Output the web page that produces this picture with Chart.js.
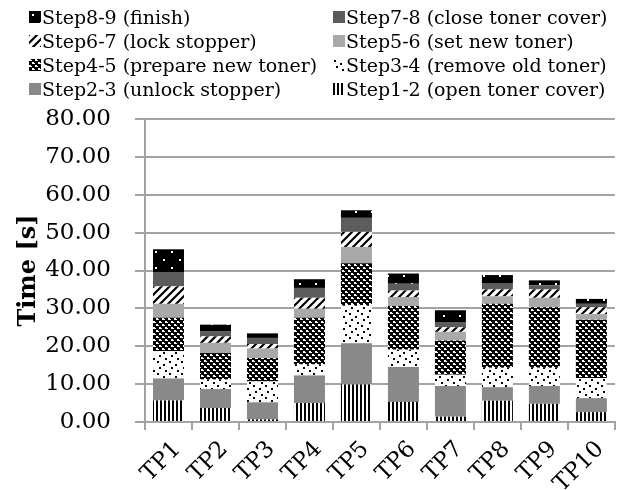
<!DOCTYPE html>
<html>
<head>
<meta charset="utf-8">
<script src="https://cdn.jsdelivr.net/npm/chart.js@4.4.1/dist/chart.umd.min.js"></script>
<style>
  body { margin: 0; background: #fff; }
  #wrap { position: relative; width: 617px; height: 490px; }
  #legend {
    position: absolute; left: 29px; top: 5px;
    display: grid; grid-template-columns: 304px 300px; row-gap: 0px;
    font-family: 'DejaVu Serif', serif; font-size: 19px; color: #000;
  }
  .item { display: flex; align-items: center; height: 24px; white-space: nowrap; }
  .item canvas { margin-right: 1px; }
</style>
</head>
<body>
<div id="wrap">
  <canvas id="chart" width="617" height="490"></canvas>
  <div id="legend"></div>
</div>
<script>
const categories = ['TP1', 'TP2', 'TP3', 'TP4', 'TP5', 'TP6', 'TP7', 'TP8', 'TP9', 'TP10'];
const stepNames = [
  'Step1-2 (open toner cover)',
  'Step2-3 (unlock stopper)',
  'Step3-4 (remove old toner)',
  'Step4-5 (prepare new toner)',
  'Step5-6 (set new toner)',
  'Step6-7 (lock stopper)',
  'Step7-8 (close toner cover)',
  'Step8-9 (finish)'
];
const step12 = [5.7, 3.7, 0.7, 5.0, 9.9, 5.3, 1.4, 5.6, 4.8, 2.6];
const step23 = [5.8, 5.0, 4.5, 7.3, 10.9, 9.2, 8.1, 3.6, 4.7, 3.7];
const step34 = [7.2, 2.5, 5.5, 2.9, 10.0, 4.6, 3.0, 5.1, 4.8, 5.3];
const step45 = [8.8, 7.0, 6.2, 12.3, 11.1, 11.5, 9.0, 16.9, 16.0, 15.4];
const step56 = [3.7, 2.7, 2.5, 2.4, 4.3, 2.4, 2.3, 2.0, 2.5, 1.5];
const step67 = [4.6, 1.7, 1.2, 2.9, 4.0, 1.7, 1.2, 1.8, 2.2, 1.8];
const step78 = [3.8, 1.4, 1.6, 2.6, 3.7, 1.8, 1.4, 1.7, 1.1, 0.9];
const step89 = [6.0, 1.7, 1.2, 2.3, 2.0, 2.7, 3.1, 2.1, 1.3, 1.3];
const yTicks = [0, 10, 20, 30, 40, 50, 60, 70, 80];

// build small tile canvases for the hatch fills
function tile(w, h, draw) {
  const c = document.createElement('canvas');
  c.width = w; c.height = h;
  draw(c.getContext('2d'), w, h);
  return c;
}
const tiles = [
  // vertical stripes
  tile(4, 4, (g) => { g.fillStyle = '#fff'; g.fillRect(0, 0, 4, 4); g.fillStyle = '#000'; g.fillRect(0, 0, 2, 4); }),
  // solid mid gray
  tile(4, 4, (g) => { g.fillStyle = '#898989'; g.fillRect(0, 0, 4, 4); }),
  // sparse dots
  tile(12, 12, (g) => {
    g.fillStyle = '#fff'; g.fillRect(0, 0, 12, 12); g.fillStyle = '#000';
    g.fillRect(1, 1, 2, 2); g.fillRect(7, 4, 2, 2); g.fillRect(3, 7, 2, 2); g.fillRect(9, 10, 2, 2);
  }),
  // dense cross hatch
  tile(6, 6, (g) => {
    g.fillStyle = '#000'; g.fillRect(0, 0, 6, 6); g.fillStyle = '#fff';
    g.fillRect(0, 0, 2, 2); g.fillRect(3, 3, 2, 2); g.fillRect(2, 1, 1, 1); g.fillRect(5, 4, 1, 1);
  }),
  // light gray
  tile(4, 4, (g) => { g.fillStyle = '#a9a9a9'; g.fillRect(0, 0, 4, 4); }),
  // diagonal hatch
  tile(8, 8, (g) => {
    g.fillStyle = '#fff'; g.fillRect(0, 0, 8, 8);
    g.strokeStyle = '#000'; g.lineWidth = 2.2;
    g.beginPath();
    g.moveTo(-2, 10); g.lineTo(10, -2);
    g.moveTo(-6, 6); g.lineTo(6, -6);
    g.moveTo(2, 14); g.lineTo(14, 2);
    g.stroke();
  }),
  // dark gray
  tile(4, 4, (g) => { g.fillStyle = '#5c5c5c'; g.fillRect(0, 0, 4, 4); }),
  // black with white dots
  tile(16, 16, (g) => {
    g.fillStyle = '#000'; g.fillRect(0, 0, 16, 16); g.fillStyle = '#fff';
    g.fillRect(3, 3, 2, 2); g.fillRect(11, 11, 2, 2);
  })
];

const ctx = document.getElementById('chart').getContext('2d');
const seriesValues = [step12, step23, step34, step45, step56, step67, step78, step89];

const datasets = seriesValues.map((vals, i) => ({
  label: stepNames[i],
  data: vals,
  backgroundColor: ctx.createPattern(tiles[i], 'repeat'),
  borderWidth: 0,
  barPercentage: 0.66,
  categoryPercentage: 1.0
}));

const gridColor = '#a3a3a3';

new Chart(ctx, {
  type: 'bar',
  data: { labels: categories, datasets: datasets },
  options: {
    responsive: false,
    animation: false,
    layout: { padding: { top: 119, right: 2, left: 12, bottom: 0 } },
    plugins: { legend: { display: false }, tooltip: { enabled: false } },
    scales: {
      x: {
        stacked: true,
        afterFit: (s) => { s.height = 68; },
        border: { color: gridColor, width: 2 },
        grid: { drawOnChartArea: false, color: gridColor, lineWidth: 2, tickLength: 8, offset: true },
        ticks: {
          color: '#000', maxRotation: 45, minRotation: 45, padding: 6, labelOffset: 9,
          font: { family: 'DejaVu Serif', size: 23 }
        }
      },
      y: {
        stacked: true,
        min: 0, max: 80,
        afterBuildTicks: (axis) => { axis.ticks = yTicks.map(v => ({ value: v })); },
        afterFit: (s) => { s.width = 133; },
        border: { color: gridColor, width: 2 },
        grid: { color: gridColor, lineWidth: 2, tickLength: 10 },
        ticks: {
          color: '#000', padding: 24,
          font: { family: 'DejaVu Serif', size: 23 },
          callback: (v) => Number(v).toFixed(2)
        },
        title: {
          display: true, text: 'Time [s]', color: '#000',
          font: { family: 'DejaVu Serif', size: 24, weight: 'bold' }, padding: { top: 2, bottom: 0 }
        }
      }
    }
  }
});

// legend laid out in two columns, top step first
const legend = document.getElementById('legend');
for (let i = stepNames.length - 1; i >= 0; i--) {
  const item = document.createElement('div');
  item.className = 'item';
  const sw = document.createElement('canvas');
  sw.width = 12; sw.height = 12;
  const sg = sw.getContext('2d');
  sg.fillStyle = sg.createPattern(tiles[i], 'repeat');
  sg.fillRect(0, 0, 12, 12);
  item.appendChild(sw);
  const span = document.createElement('span');
  span.textContent = stepNames[i];
  item.appendChild(span);
  legend.appendChild(item);
}
</script>
</body>
</html>
